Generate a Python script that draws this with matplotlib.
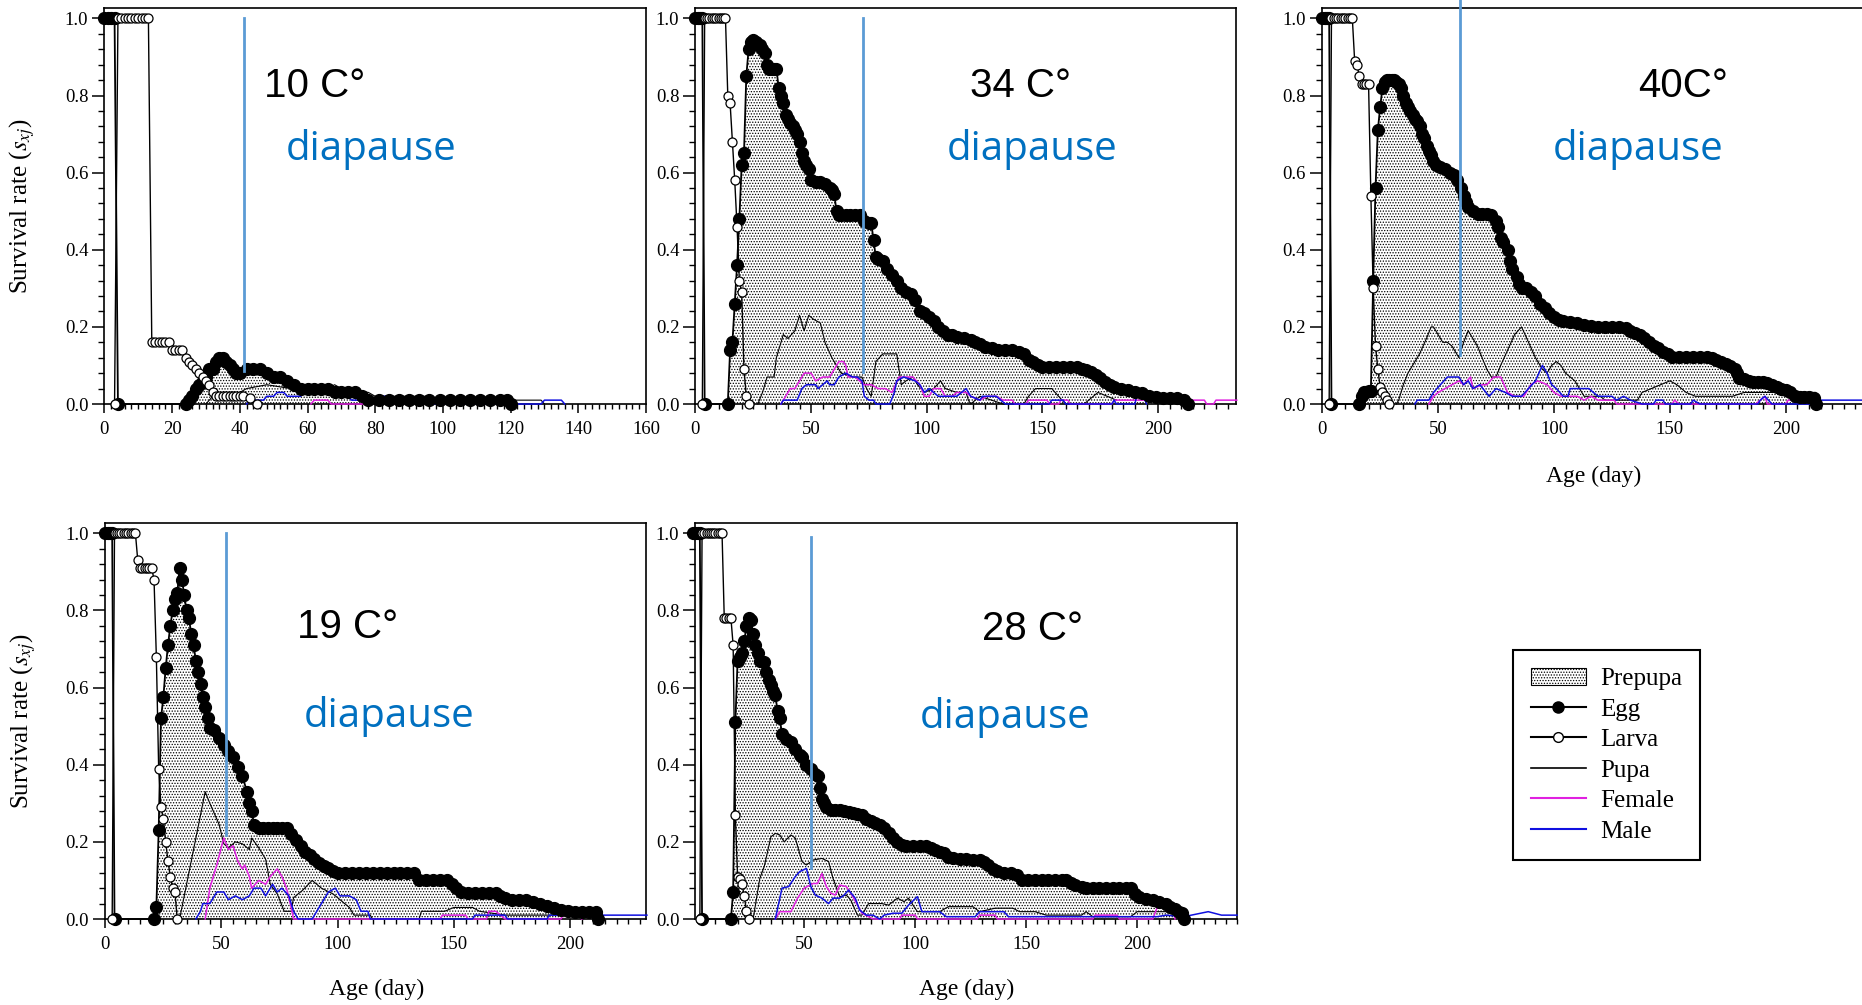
import numpy as np
import matplotlib
matplotlib.use('Agg')
import matplotlib.pyplot as plt
from matplotlib.lines import Line2D
from matplotlib.patches import Patch

plt.rcParams['font.family'] = 'Liberation Serif'
plt.rcParams['mathtext.fontset'] = 'stix'
plt.rcParams['hatch.linewidth'] = 0.6

# ---- 10 C ----
e10 = [(0, 1), (1, 1), (2, 1), (3, 1), (4, 0), (24, 0), (25, .01), (26, .02), (27, .04), (28, .05), (29, .06),
       (30, .07), (31, .09), (32, .09), (33, .11), (34, .12), (35, .12), (36, .11), (37, .10), (38, .09), (39, .08),
       (40, .08), (42, .09), (44, .09), (46, .09), (48, .08), (50, .07), (52, .07), (54, .06), (56, .05), (58, .04),
       (60, .04), (62, .04), (64, .04), (66, .04), (68, .03), (70, .03), (72, .03), (74, .03), (76, .02), (78, .01),
       (81, .01), (84, .01), (87, .01), (90, .01), (93, .01), (96, .01), (99, .01), (102, .01), (105, .01),
       (108, .01), (111, .01), (114, .01), (117, .01), (119, .01), (120, 0)]
l10 = [(3, 0), (4, 1), (5, 1), (6, 1), (7, 1), (8, 1), (9, 1), (10, 1), (11, 1), (12, 1), (13, 1), (14, .16),
       (15, .16), (16, .16), (17, .16), (18, .16), (19, .16), (20, .14), (21, .14), (22, .14), (23, .14), (24, .12),
       (25, .11), (26, .10), (27, .09), (28, .08), (29, .07), (30, .06), (31, .05), (32, .03), (33, .02), (34, .02),
       (35, .02), (36, .02), (37, .02), (38, .02), (39, .02), (40, .02), (41, .02), (43, .015), (45, 0)]
p10 = [(30, 0), (32, .02), (35, .03), (40, .03), (42, .04), (48, .05), (55, .04), (66, .04), (68, .05), (70, .04),
       (78, .03), (80, .02), (95, .02), (100, .01), (129, .01), (130, 0)]
f10 = [(61, 0), (62, .01), (66, .01), (67, 0), (78, 0), (79, .01), (85, .01), (86, 0)]
m10 = [(42, 0), (43, .01), (47, .01), (48, .02), (50, .02), (51, .03), (53, .03), (54, .02), (58, .02), (59, .04),
       (61, .04), (62, .03), (67, .03), (68, .02), (72, .02), (73, .01), (80, .01), (81, .02), (84, .02), (85, .01),
       (94, .01), (95, 0), (129, 0), (130, .01), (135, .01), (136, 0)]

# ---- 34 C ----
e34 = [(0, 1), (1, 1), (2, 1), (3, 1), (4, 0), (14, 0), (15, .14), (16, .16), (17, .26), (18, .36), (19, .48),
       (20, .62), (21, .65), (22, .85), (23, .92), (24, .94), (25, .945), (26, .94), (27, .93), (28, .93), (29, .92),
       (30, .91), (31, .88), (32, .87), (33, .87), (34, .87), (35, .87), (36, .82), (37, .80), (38, .78), (39, .75),
       (40, .74), (41, .73), (42, .72), (43, .71), (44, .70), (45, .68), (46, .65), (47, .63), (48, .62), (49, .61),
       (50, .58), (52, .575), (54, .575), (56, .57), (58, .56), (59, .555), (60, .545), (61, .50), (62, .49),
       (63, .49), (65, .49), (67, .49), (69, .49), (71, .49), (73, .475), (75, .47), (76, .47), (77, .425), (78, .38),
       (79, .375), (81, .37), (83, .35), (85, .335), (87, .32), (89, .30), (91, .29), (93, .285), (95, .27),
       (97, .24), (99, .235), (101, .225), (103, .215), (105, .20), (107, .19), (109, .18), (111, .178), (113, .175),
       (116, .17), (119, .165), (121, .16), (123, .155), (125, .149), (128, .145), (131, .14), (134, .14), (137, .14),
       (140, .135), (142, .13), (144, .114), (146, .108), (148, .10), (150, .097), (153, .097), (156, .097),
       (159, .097), (162, .097), (165, .097), (167, .09), (169, .087), (171, .084), (173, .075), (175, .068),
       (177, .056), (179, .05), (181, .045), (184, .04), (187, .036), (190, .032), (193, .028), (196, .022),
       (199, .019), (202, .016), (205, .015), (208, .015), (211, .01), (213, 0)]
l34 = [(3, 0), (4, 1), (5, 1), (6, 1), (7, 1), (8, 1), (9, 1), (10, 1), (11, 1), (12, 1), (13, 1), (14, .80),
       (15, .78), (16, .68), (17, .58), (18, .46), (19, .32), (20, .29), (21, .09), (22, .02), (23, 0)]
p34 = [(27, 0), (29, .03), (31, .07), (34, .07), (35, .12), (38, .18), (40, .17), (43, .19), (45, .23), (46, .21),
       (47, .19), (49, .23), (51, .22), (54, .21), (56, .16), (59, .12), (63, .08), (68, .07), (72, .07), (74, .04),
       (76, .02), (78, .11), (81, .13), (87, .13), (89, .05), (91, .06), (94, .07), (96, .05), (99, .03), (103, .04),
       (106, .06), (108, .04), (113, .03), (117, .03), (118, .01), (119, 0), (121, .01), (123, .02), (128, .01),
       (133, 0), (142, 0), (144, .02), (147, .04), (154, .04), (157, .02), (160, 0), (168, 0), (170, .01),
       (174, .03), (178, .02), (182, .01)]
f34 = [(37, 0), (39, .02), (41, .04), (43, .04), (45, .06), (47, .08), (50, .08), (52, .06), (55, .07), (58, .07),
       (60, .09), (62, .11), (64, .11), (65, .10), (66, .07), (69, .07), (71, .06), (73, .05), (76, .05), (79, .04),
       (82, .04), (85, .03), (88, .07), (94, .07), (97, .05), (99, .02), (101, .02), (103, .04), (106, .04),
       (108, .02), (111, .02), (113, .03), (117, .03), (119, .02), (123, .01), (126, .02), (130, .02), (133, .01),
       (137, .01), (138, 0), (143, 0), (144, .01), (152, .01), (153, 0), (157, 0), (158, .01), (161, .01), (162, 0),
       (180, 0), (181, .01), (220, .01), (221, 0), (224, 0), (225, .01), (234, .01)]
m34 = [(37, 0), (38, .01), (44, .01), (46, .04), (48, .05), (52, .05), (53, .04), (55, .05), (57, .06), (58, .05),
       (60, .05), (62, .07), (65, .08), (68, .07), (70, .07), (72, .06), (73, .02), (75, .01), (77, .01), (78, 0),
       (84, 0), (86, .03), (87, .06), (90, .07), (95, .06), (97, .05), (99, .03), (101, .04), (103, .03), (105, .02),
       (108, .02), (113, .02), (117, .04), (119, .02), (123, .01), (124, .02), (130, .02), (132, .01), (134, 0),
       (153, 0), (154, .01), (159, .01), (160, 0), (180, 0), (181, .01), (182, 0), (190, 0), (191, .03), (193, .03),
       (195, 0)]

# ---- 40 C ----
e40 = [(0, 1), (1, 1), (2, 1), (3, 1), (4, 0), (16, 0), (17, .02), (18, .03), (19, .03), (20, .035), (21, .035),
       (22, .32), (23, .56), (24, .71), (25, .77), (26, .82), (27, .835), (28, .84), (29, .84), (30, .84), (31, .84),
       (32, .835), (33, .83), (34, .82), (35, .80), (36, .78), (37, .77), (38, .76), (39, .75), (40, .74), (41, .735),
       (42, .72), (43, .70), (44, .69), (45, .67), (46, .655), (47, .645), (48, .63), (49, .62), (51, .615),
       (53, .61), (55, .60), (57, .595), (58, .58), (60, .56), (61, .54), (62, .525), (63, .51), (65, .50),
       (67, .494), (69, .494), (71, .494), (73, .49), (75, .475), (76, .46), (77, .43), (78, .42), (80, .40),
       (81, .37), (82, .35), (84, .33), (85, .31), (86, .30), (88, .30), (90, .29), (92, .28), (94, .26), (96, .25),
       (98, .235), (100, .225), (102, .218), (104, .215), (107, .213), (110, .21), (113, .205), (116, .203),
       (119, .20), (122, .20), (125, .20), (128, .20), (131, .198), (133, .19), (135, .185), (137, .18), (139, .17),
       (141, .16), (143, .15), (145, .144), (147, .135), (149, .13), (151, .123), (154, .123), (157, .123),
       (160, .123), (163, .123), (166, .123), (168, .12), (170, .115), (172, .11), (174, .105), (176, .098),
       (178, .092), (179, .08), (180, .067), (182, .065), (184, .06), (186, .058), (188, .058), (190, .056),
       (192, .054), (194, .05), (196, .045), (198, .04), (200, .036), (202, .03), (204, .022), (206, .019),
       (208, .019), (210, .019), (212, .015), (213, 0)]
l40 = [(3, 0), (4, 1), (5, 1), (6, 1), (7, 1), (8, 1), (9, 1), (10, 1), (11, 1), (12, 1), (13, 1), (14, .89),
       (15, .88), (16, .85), (17, .83), (18, .83), (19, .83), (20, .83), (21, .54), (22, .30), (23, .15), (24, .09),
       (25, .045), (26, .03), (27, .02), (28, .01), (29, 0)]
p40 = [(32, 0), (33, .01), (35, .05), (37, .08), (39, .10), (42, .13), (45, .17), (47, .20), (48, .20), (50, .18),
       (52, .16), (54, .16), (56, .15), (59, .12), (61, .16), (63, .19), (65, .17), (67, .15), (69, .12), (71, .09),
       (73, .07), (75, .07), (77, .10), (80, .14), (83, .18), (86, .20), (89, .16), (92, .12), (95, .09), (97, .08),
       (99, .10), (101, .11), (103, .10), (105, .08), (107, .07), (109, .06), (111, .04), (113, .02), (120, .02),
       (122, .01), (136, .01), (138, .03), (142, .04), (146, .05), (150, .06), (153, .05), (157, .03), (161, .02),
       (177, .02), (182, .03), (205, .03), (213, .03), (214, 0)]
f40 = [(46, 0), (48, .02), (50, .03), (53, .04), (56, .05), (59, .06), (61, .05), (64, .07), (65, .04), (69, .05),
       (71, .05), (74, .07), (77, .07), (80, .03), (83, .02), (87, .02), (90, .05), (93, .06), (97, .05), (100, .03),
       (103, .02), (110, .02), (113, .01), (116, .02), (119, .01), (126, .01), (127, 0), (151, 0), (152, .01),
       (154, 0), (187, 0), (189, .01), (191, .02), (192, 0), (200, 0), (201, .01), (213, .01), (214, 0)]
m40 = [(40, 0), (41, .01), (46, .01), (48, .03), (51, .05), (54, .07), (59, .07), (61, .05), (63, .06), (65, .04),
       (68, .05), (72, .02), (75, .04), (79, .03), (82, .02), (86, .02), (89, .04), (92, .06), (95, .10), (97, .08),
       (99, .05), (101, .04), (104, .02), (106, .02), (107, .04), (115, .04), (119, .02), (125, .02), (127, .01),
       (130, .02), (133, .01), (138, 0), (143, 0), (144, .01), (147, .01), (148, 0), (159, 0), (160, .01), (163, 0),
       (188, 0), (189, .01), (191, .02), (194, 0), (214, 0), (215, .01), (234, .01)]

# ---- 19 C ----
e19 = [(0, 1), (1, 1), (2, 1), (3, 1), (4, 0), (21, 0), (22, .03), (23, .23), (24, .52), (25, .575), (26, .65),
       (27, .71), (28, .76), (29, .80), (30, .83), (31, .845), (32, .91), (33, .88), (34, .84), (35, .80), (36, .78),
       (37, .74), (38, .71), (39, .67), (40, .64), (41, .61), (42, .576), (43, .55), (44, .52), (45, .495),
       (47, .49), (49, .47), (51, .45), (53, .435), (55, .42), (57, .395), (59, .37), (61, .33), (62, .30),
       (63, .28), (64, .245), (66, .235), (68, .235), (70, .235), (72, .235), (74, .235), (76, .235), (78, .235),
       (80, .22), (82, .205), (84, .19), (86, .175), (88, .165), (90, .155), (92, .145), (94, .138), (96, .131),
       (98, .125), (100, .12), (103, .118), (106, .118), (109, .118), (112, .118), (115, .118), (118, .118),
       (121, .118), (124, .118), (127, .118), (130, .118), (133, .118), (135, .10), (138, .10), (141, .10),
       (144, .10), (147, .10), (149, .09), (151, .08), (153, .07), (156, .067), (159, .067), (162, .067),
       (165, .067), (168, .067), (170, .06), (172, .054), (175, .05), (178, .05), (181, .049), (184, .045),
       (187, .038), (190, .034), (193, .028), (196, .024), (199, .02), (202, .019), (205, .019), (208, .019),
       (211, .019), (212, 0)]
l19 = [(3, 0), (4, 1), (5, 1), (6, 1), (7, 1), (8, 1), (9, 1), (10, 1), (11, 1), (12, 1), (13, 1), (14, .93),
       (15, .91), (16, .91), (17, .91), (18, .91), (19, .91), (20, .91), (21, .88), (22, .68), (23, .39), (24, .29),
       (25, .26), (26, .20), (27, .15), (28, .11), (29, .08), (30, .07), (31, 0)]
p19 = [(32, 0), (43, .33), (45, .30), (49, .245), (51, .195), (53, .185), (56, .20), (59, .195), (62, .18),
       (63, .21), (66, .185), (69, .155), (71, .09), (74, .065), (77, .02), (80, .02), (81, .055), (85, .075),
       (89, .10), (93, .08), (98, .065), (101, .05), (105, .03), (107, .01), (114, .01), (115, 0), (135, 0),
       (136, .02), (146, .02), (150, .03), (158, .03), (161, .02), (172, .01), (200, .01)]
f19 = [(43, 0), (45, .08), (48, .14), (51, .21), (53, .18), (55, .19), (57, .15), (59, .13), (60, .14), (62, .11),
       (63, .08), (66, .10), (69, .09), (71, .11), (74, .13), (76, .11), (78, .08), (80, .03), (81, 0), (144, 0),
       (145, .01), (155, .01), (156, 0), (164, 0), (165, .02), (168, .02), (170, .01), (172, 0), (196, 0),
       (197, .01), (204, .01), (205, 0)]
m19 = [(39, 0), (41, .02), (42, .04), (45, .04), (48, .07), (51, .07), (53, .05), (56, .06), (59, .05), (62, .06),
       (64, .08), (67, .08), (69, .06), (72, .09), (74, .07), (76, .08), (79, .06), (81, .02), (83, 0), (89, 0),
       (93, .04), (96, .07), (99, .08), (101, .06), (105, .06), (108, .05), (110, .02), (113, .02), (114, 0),
       (158, 0), (159, .01), (172, .01), (173, 0), (190, 0), (191, .01), (211, .01), (212, .02), (214, .01),
       (233, .01)]

# ---- 28 C ----
e28 = [(0, 1), (1, 1), (2, 1), (3, 1), (4, 0), (17, 0), (18, .07), (19, .51), (20, .67), (21, .68), (22, .69),
       (23, .72), (24, .76), (25, .78), (26, .775), (27, .74), (28, .71), (29, .69), (30, .67), (32, .667),
       (33, .64), (34, .62), (35, .607), (36, .59), (37, .58), (38, .54), (39, .52), (40, .48), (42, .468),
       (44, .46), (46, .44), (48, .425), (49, .42), (51, .40), (53, .39), (55, .375), (56, .37), (57, .34),
       (58, .31), (59, .30), (60, .29), (62, .283), (64, .283), (66, .283), (68, .28), (70, .278), (72, .275),
       (74, .272), (76, .27), (78, .26), (80, .255), (82, .25), (84, .244), (86, .235), (88, .222), (90, .21),
       (92, .20), (94, .192), (96, .19), (99, .19), (102, .19), (105, .19), (107, .185), (109, .18), (111, .175),
       (113, .17), (115, .162), (117, .157), (120, .155), (123, .155), (126, .153), (129, .153), (131, .147),
       (133, .14), (135, .13), (137, .125), (140, .12), (143, .118), (146, .114), (148, .10), (151, .10),
       (154, .10), (157, .10), (160, .10), (163, .10), (166, .10), (168, .10), (170, .094), (172, .088),
       (175, .083), (177, .08), (180, .08), (183, .08), (186, .08), (189, .08), (192, .08), (195, .08), (197, .08),
       (199, .065), (201, .058), (204, .053), (207, .049), (210, .045), (213, .04), (215, .03), (217, .025),
       (219, .017), (220, .015), (221, 0)]
l28 = [(3, 0), (4, 1), (5, 1), (6, 1), (7, 1), (8, 1), (9, 1), (10, 1), (11, 1), (12, 1), (13, 1), (14, .78),
       (15, .78), (16, .78), (17, .78), (18, .71), (19, .27), (20, .11), (21, .105), (22, .09), (23, .06), (24, .02),
       (25, 0)]
p28 = [(27, 0), (30, .105), (32, .136), (35, .213), (37, .222), (39, .218), (41, .20), (44, .218), (46, .21),
       (49, .149), (51, .14), (54, .153), (58, .157), (61, .149), (63, .105), (66, .058), (69, .062), (71, .049),
       (74, .01), (76, .01), (79, .04), (85, .04), (88, .036), (92, .054), (95, .045), (97, .054), (99, .036),
       (101, .019), (111, .019), (115, .032), (126, .032), (129, .019), (136, .028), (144, .028), (147, .019),
       (154, .019), (159, .01), (175, .01), (177, .019), (180, .006), (197, .006), (200, .019), (215, .019),
       (218, .006)]
f28 = [(37, 0), (39, .019), (44, .019), (47, .054), (50, .08), (54, .092), (56, .092), (58, .118), (60, .084),
       (62, .067), (64, .062), (66, .088), (69, .084), (71, .067), (74, .036), (76, .015), (81, 0), (93, 0),
       (94, .01), (100, .01), (101, 0), (128, 0), (129, .01), (136, .01), (137, 0), (180, 0), (181, .01),
       (191, .01), (192, 0), (207, 0), (209, .03), (216, .03), (217, 0)]
m28 = [(37, 0), (40, .08), (43, .084), (46, .11), (48, .123), (51, .131), (53, .084), (55, .062), (58, .054),
       (61, .04), (63, .054), (66, .054), (68, .062), (70, .075), (73, .054), (75, .023), (78, .01), (81, .01),
       (84, 0), (86, .01), (90, .015), (94, .015), (97, .036), (101, .058), (103, .019), (111, .019), (114, .006),
       (127, .006), (129, .019), (140, .019), (142, .006), (209, .006), (213, .01), (221, .006), (232, .019),
       (238, .01), (245, .01)]

temps = ['10 C°', '34 C°', '40C°', '19 C°', '28 C°']
diapause_day = [41.3, 72.3, 59.4, 52.1, 53.1]
diapause_top = [1.0, 1.0, 1.05, 1.0, 0.99]
diapause_low = [0.085, 0.084, 0.127, 0.218, 0.131]

W, H = 1862, 1005
BLUE_LINE = '#5b9bd5'
BLUE_TEXT = '#0070c0'
FEMALE = '#e020e0'
MALE = '#1010e0'


def xy(series):
    x, y = zip(*series)
    return np.array(x, dtype=float), np.array(y, dtype=float)


def add_panel(fig, rect, xlim, ymax):
    left, top, right, bottom = rect
    ax = fig.add_axes([left / W, 1 - bottom / H, (right - left) / W, (bottom - top) / H])
    ax.set_xlim(*xlim)
    ax.set_ylim(0, ymax)
    for s in ax.spines.values():
        s.set_linewidth(1.2)
    return ax


def plot_stages(ax, egg, larva, pupa, female, male):
    ex, ey = xy(egg)
    hump = ex > 10
    ax.fill_between(ex[hump], ey[hump], 0, facecolor='white', edgecolor='black',
                    hatch='......', linewidth=0, zorder=1)
    px, py = xy(pupa)
    ax.plot(px, py, color='black', lw=0.8, zorder=3, clip_on=False)
    fx, fy = xy(female)
    ax.plot(fx, fy, color=FEMALE, lw=1.1, zorder=3, clip_on=False)
    mx, my = xy(male)
    ax.plot(mx, my, color=MALE, lw=1.1, zorder=3, clip_on=False)
    ax.plot(ex, ey, color='black', lw=1.3, marker='o', ms=8.5, mfc='black', mec='black',
            zorder=4, clip_on=False)
    lx, ly = xy(larva)
    ax.plot(lx, ly, color='black', lw=1.0, marker='o', ms=6.5, mfc='white', mec='black',
            mew=0.9, zorder=5, clip_on=False)


def style_axes(ax, xmajor, xminor, ylabel=False, xlabel=None):
    ax.set_yticks(np.arange(0, 1.01, 0.2))
    ax.set_yticks(np.arange(0, 1.01, 0.04), minor=True)
    ax.yaxis.set_major_formatter('{x:.1f}')
    ax.set_xticks(xmajor)
    ax.set_xticks(xminor, minor=True)
    ax.tick_params(axis='y', which='major', direction='out', length=8.6, width=1.1, labelsize=13.5, pad=3)
    ax.tick_params(axis='y', which='minor', direction='out', length=4.3, width=1.0)
    ax.tick_params(axis='x', which='major', direction='out', length=6.5, width=1.1, labelsize=13.5, pad=6)
    ax.tick_params(axis='x', which='minor', direction='out', length=3.6, width=1.0)
    ax.tick_params(top=False, right=False)
    if ylabel:
        ax.set_ylabel(r'Survival rate ($s_{xj}$)', fontsize=18)
        ax.yaxis.set_label_coords(-0.152, 0.5)
        ax.yaxis.label.set_va('center')
    if xlabel is not None:
        ax.set_xlabel('Age (day)', fontsize=17)
        ax.xaxis.set_label_coords(*xlabel)
        ax.xaxis.label.set_va('center')


fig = plt.figure(figsize=(W / 100, H / 100), dpi=100)

panels = [
    # rect in pixels (left, top, right, bottom), axis limits, tick spacing, text spots (axes fraction)
    dict(rect=(104.4, 8, 646.0, 404), xlim=(0, 160), ymax=1.027, data=(e10, l10, p10, f10, m10),
         xmajor=np.arange(0, 161, 20), xminor=np.arange(0, 161, 2), tpos=(0.295, 0.775), dpos=(0.493, 0.616),
         ylabel=True, xlabel=None),
    dict(rect=(695.4, 8, 1236.3, 404), xlim=(0, 233.8), ymax=1.027, data=(e34, l34, p34, f34, m34),
         xmajor=np.arange(0, 201, 50), xminor=np.arange(0, 234, 5), tpos=(0.507, 0.775), dpos=(0.623, 0.616),
         ylabel=False, xlabel=None),
    dict(rect=(1322.2, 8, 1864.6, 404), xlim=(0, 234), ymax=1.027, data=(e40, l40, p40, f40, m40),
         xmajor=np.arange(0, 201, 50), xminor=np.arange(0, 231, 5), tpos=(0.582, 0.775), dpos=(0.582, 0.616),
         ylabel=False, xlabel=(0.501, -0.184)),
    dict(rect=(105.2, 523.3, 646.0, 919), xlim=(0, 232.6), ymax=1.026, data=(e19, l19, p19, f19, m19),
         xmajor=np.arange(0, 201, 50), xminor=np.arange(0, 233, 5), tpos=(0.354, 0.710), dpos=(0.525, 0.485),
         ylabel=True, xlabel=(0.502, -0.179)),
    dict(rect=(695.4, 523.3, 1237.1, 919), xlim=(1, 245), ymax=1.026, data=(e28, l28, p28, f28, m28),
         xmajor=np.arange(50, 201, 50), xminor=np.arange(5, 246, 5), tpos=(0.529, 0.705), dpos=(0.571, 0.483),
         ylabel=False, xlabel=(0.501, -0.179)),
]

for i, p in enumerate(panels):
    ax = add_panel(fig, p['rect'], p['xlim'], p['ymax'])
    plot_stages(ax, *p['data'])
    style_axes(ax, p['xmajor'], p['xminor'], p['ylabel'], p['xlabel'])
    ax.plot([diapause_day[i], diapause_day[i]], [diapause_top[i], diapause_low[i]],
            color=BLUE_LINE, lw=2.0, zorder=6, clip_on=False)
    ax.text(*p['tpos'], temps[i], transform=ax.transAxes, fontsize=29, family='Liberation Sans',
            ha='left', va='baseline', color='black')
    ax.text(*p['dpos'], 'diapause', transform=ax.transAxes, fontsize=29, family='Open Sans',
            ha='center', va='baseline', color=BLUE_TEXT)

# legend
handles = [
    Patch(facecolor='white', edgecolor='black', hatch='......', linewidth=0.8),
    Line2D([], [], color='black', lw=1.5, marker='o', ms=8, mfc='black', mec='black'),
    Line2D([], [], color='black', lw=1.5, marker='o', ms=7, mfc='white', mec='black'),
    Line2D([], [], color='black', lw=1.2),
    Line2D([], [], color=FEMALE, lw=1.5),
    Line2D([], [], color=MALE, lw=1.5),
]
labels = ['Prepupa', 'Egg', 'Larva', 'Pupa', 'Female', 'Male']
leg = fig.legend(handles, labels, loc='upper left', bbox_to_anchor=(1513 / W, 1 - 650 / H),
                 frameon=True, fancybox=False, edgecolor='black', framealpha=1, fontsize=18,
                 handlelength=2.2, handletextpad=0.6, borderpad=0.7, labelspacing=0.32,
                 borderaxespad=0)
leg.get_frame().set_linewidth(1.5)

fig.savefig('out.png', dpi=100)
